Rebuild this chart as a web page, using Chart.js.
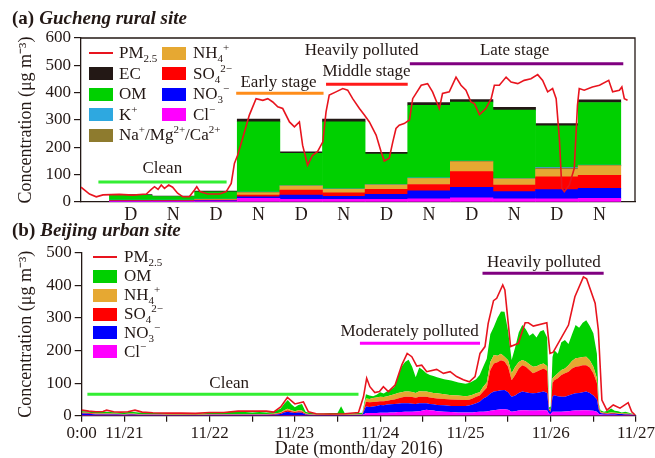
<!DOCTYPE html>
<html lang="en">
<head>
<meta charset="UTF-8">
<title>PM2.5 composition at Gucheng and Beijing</title>
<script src="https://cdn.jsdelivr.net/npm/chart.js"></script>
<style>
  body { margin: 0; background: #fff; }
  #wrap { position: relative; width: 655px; height: 458px; overflow: hidden;
          font-family: "Liberation Serif", "Times New Roman", serif; color: #231815; }
  canvas { position: absolute; left: 0; }
  #chartA { top: 0; }
  #chartB { top: 225px; }
  .title { position: absolute; left: 12px; font-size: 19px; font-weight: bold; white-space: nowrap; line-height: 20px; }
  .title i { margin-left: 5px; }
  .item { position: absolute; white-space: nowrap; height: 20px; line-height: 20px; font-size: 17px; }
  .sw { position: absolute; left: 0; top: 3.5px; width: 24px; height: 13px; }
  .ln { position: absolute; left: 0; top: 9px; width: 24px; height: 0; border-top: 2px solid #e8141e; }
  .lbl { position: absolute; top: 0; }
  sub, sup { font-size: 11px; line-height: 0; }
</style>
</head>
<body>
<div id="wrap">
  <canvas id="chartA" width="655" height="225"></canvas>
  <canvas id="chartB" width="655" height="233"></canvas>
  <div class="title" style="top:8px">(a)<i>Gucheng rural site</i></div>
  <div class="title" style="top:220px">(b)<i>Beijing urban site</i></div>
  <div id="legendA"></div>
  <div id="legendB"></div>
</div>

<script>
// ---------- (a) Gucheng: day/night averages (hours from 11/21 0:00) ----------
const barCenters = [14, 26, 38, 50, 62, 74, 86, 98, 110, 122, 134, 146];
const dayNight   = ['D', 'N', 'D', 'N', 'D', 'N', 'D', 'N', 'D', 'N', 'D', 'N'];
const clBar      = [2, 2, 3, 13, 10, 10, 10, 12, 15, 12, 12, 13];
const no3Bar     = [1, 1, 2, 6, 15, 11, 18, 29, 39, 26, 33, 37];
const so4Bar     = [2, 2, 2, 6, 19, 13, 18, 23, 57, 24, 47, 48];
const nh4Bar     = [1, 1, 2, 9, 14, 12, 16, 22, 36, 22, 27, 34];
const naMgCaBar  = [0.5, 0.5, 1, 1, 1, 1, 1, 1, 2, 1, 5, 2];
const kBar       = [0.5, 0.5, 1, 1, 1, 1, 1, 1, 1, 1, 3, 1];
const omBar      = [17, 13, 26, 257, 118, 245, 111, 266, 216, 250, 152, 229];
const ecBar      = [3, 2, 3, 10, 6, 10, 7, 10, 9, 10, 8, 10];

// hourly PM2.5 at Gucheng
const pmAHours = [0, 2.4, 4.3, 6.2, 10.8, 14.6, 18.4, 19.8, 20.7, 21.7, 22.6, 23.5, 24.7, 25.8, 27.2, 28.7, 30.5, 31.9,
  32.6, 33.5, 35.7, 39, 40.9, 42.3, 43.2, 44.1, 45.5, 47.4, 49.3, 51.2, 52.6, 54, 55.4, 56.8, 58.7, 60.1, 61.5, 62.4,
  63.8, 65.2, 66.6, 68.1, 69, 69.9, 71.8, 73.7, 75.1, 76.5, 78.4, 79.8, 81.2, 83.1, 84.5, 85.4, 86.8, 87.8, 88.7, 89.6,
  91, 92.5, 93.4, 95.8, 97.6, 99, 100.9, 101.8, 103.7, 105.6, 107, 108.4, 109.8, 110.8, 112.2, 114, 115.5, 116.4, 117.8,
  119.7, 121.1, 123, 124.8, 126.7, 128.6, 130, 131.4, 132.8, 133.8, 134.7, 135.4, 136.1, 137.5, 138.9, 139.8, 140.3,
  141.7, 144, 146, 148.6, 149.7, 151.6, 152.3, 153, 153.9];
const pmAValues = [54, 29, 19, 26, 28, 25, 29, 46, 56, 46, 62, 50, 62, 54, 32, 19, 19, 43,
  56, 38, 29, 29, 38, 68, 141, 171, 232, 318, 378, 372, 378, 366, 348, 342, 293, 275, 293, 208,
  135, 171, 184, 220, 330, 391, 403, 415, 409, 378, 342, 318, 293, 245, 184, 150, 160, 220, 269, 281,
  287, 300, 378, 427, 433, 403, 342, 397, 403, 457, 427, 409, 366, 360, 320, 342, 378, 427, 427,
  457, 439, 433, 445, 451, 466, 445, 403, 415, 378, 232, 50, 38, 62, 123, 354, 415,
  409, 421, 427, 445, 403, 409, 421, 378, 372];

// ---------- (b) Beijing: high-resolution composition ----------
const bHours = [0, 2, 4, 6, 8, 10, 12, 14, 16, 18, 20, 22, 24, 26, 28, 30, 32, 34, 36, 38, 40, 42, 44, 46, 48, 50, 52, 54,
  56, 57, 58, 59, 60, 61, 62, 63, 64, 66, 68, 70, 72, 73, 74, 76, 79,
  80, 81, 82, 83, 84, 85, 86, 87, 88, 89, 90, 91, 92, 93, 94, 95, 96, 97, 98, 99, 100, 102, 104, 106, 108, 109, 110,
  111, 112, 113, 114, 115, 116, 117, 118, 119, 120, 121, 122, 123, 124, 125, 126, 127, 128, 129, 130, 131, 131.5, 132,
  132.5, 133, 134, 135, 136, 137, 138, 139, 140, 141, 142, 143, 144, 145, 145.5, 146, 147, 148, 149, 150, 151, 152,
  153, 154, 155, 156];
const clB = [2, 2, 1, 1, 1, 1, 1, 1, 1, 1, 1, 1, 1, 1, 1, 1, 1, 1, 1, 1, 1, 1, 1, 1, 1, 1, 1, 1,
  1, 2, 2, 2, 2, 2, 2, 1, 1, 1, 1, 1, 1, 1, 1, 1, 1,
  8, 8, 8, 8, 9, 9, 9, 10, 10, 11, 11, 12, 12, 12, 13, 14, 16, 18, 17, 16, 14, 12, 11, 10, 10, 10, 10,
  11, 12, 12, 13, 15, 17, 18, 20, 20, 18, 12, 14, 16, 17, 17, 16, 16, 16, 17, 17, 16, 6, 5,
  12, 12, 12, 12, 13, 14, 15, 16, 16, 17, 17, 16, 15, 12, 6, 4, 3, 3, 3, 3, 2, 2,
  2, 2, 1, 1];
const no3B = [5, 4, 3, 3, 3, 3, 2, 3, 2, 2, 2, 2, 1, 1, 1, 1, 1, 1, 2, 2, 2, 2, 2, 2, 2, 2, 2, 2,
  4, 8, 10, 8, 6, 8, 7, 3, 2, 1, 1, 1, 1, 1, 1, 1, 2,
  20, 19, 20, 22, 24, 23, 25, 25, 26, 26, 27, 26, 26, 25, 23, 24, 22, 20, 19, 19, 19, 20, 19, 20, 20, 21, 24,
  27, 31, 41, 45, 53, 57, 58, 58, 59, 54, 46, 48, 54, 57, 55, 54, 53, 54, 55, 57, 54, 9, 7,
  46, 51, 48, 46, 45, 48, 51, 53, 54, 55, 57, 54, 47, 38, 14, 4, 3, 2, 3, 3, 3, 3,
  2, 2, 2, 1];
const so4B = [2, 2, 2, 2, 2, 1, 1, 2, 1, 1, 1, 1, 1, 1, 1, 1, 1, 1, 1, 1, 1, 1, 1, 1, 1, 1, 1, 2,
  3, 4, 5, 4, 3, 4, 4, 2, 1, 1, 1, 1, 1, 1, 1, 1, 1,
  15, 14, 14, 13, 11, 12, 12, 13, 14, 16, 18, 20, 20, 20, 19, 20, 20, 20, 20, 19, 20, 19, 20, 19, 18, 18, 19,
  20, 19, 21, 28, 72, 86, 88, 92, 87, 78, 51, 63, 75, 81, 78, 70, 61, 65, 68, 71, 68, 5, 3,
  42, 46, 55, 67, 72, 73, 79, 81, 82, 83, 81, 78, 68, 50, 8, 2, 2, 2, 2, 2, 1, 1,
  2, 1, 1, 1];
const nh4B = [1, 1, 1, 1, 1, 1, 1, 1, 1, 1, 1, 1, 1, 1, 1, 1, 1, 1, 1, 1, 1, 1, 1, 1, 1, 1, 1, 1,
  2, 3, 4, 3, 3, 3, 3, 1, 1, 1, 1, 1, 1, 1, 1, 1, 1,
  10, 10, 12, 13, 14, 13, 14, 15, 16, 17, 16, 16, 16, 16, 15, 17, 16, 16, 16, 16, 16, 15, 13, 13, 12, 12, 11,
  11, 10, 15, 16, 25, 26, 20, 20, 15, 20, 21, 25, 20, 16, 16, 18, 20, 17, 17, 15, 14, 2, 2,
  15, 11, 15, 15, 15, 20, 23, 26, 26, 25, 26, 22, 20, 15, 4, 2, 1, 1, 2, 1, 2, 1,
  1, 1, 1, 0];
const omB = [4, 4, 4, 5, 4, 4, 5, 5, 5, 4, 3, 3, 3, 3, 3, 2, 3, 3, 4, 4, 5, 8, 6, 6, 5, 6, 5, 5,
  12, 20, 27, 18, 12, 16, 20, 5, 4, 3, 3, 4, 4, 25, 4, 3, 4,
  13, 11, 6, 8, 14, 11, 15, 17, 22, 50, 78, 91, 98, 77, 48, 73, 66, 56, 53, 52, 49, 46, 45, 40, 38, 39, 42,
  43, 53, 61, 73, 85, 87, 116, 130, 138, 90, 41, 60, 90, 107, 99, 87, 103, 88, 101, 103, 88, 3, 11,
  65, 81, 60, 85, 87, 65, 82, 102, 92, 105, 112, 105, 103, 75, 6, 5, 3, 7, 12, 6, 6, 3,
  5, 3, 1, 1];

// hourly PM2.5 at Beijing
const pmBHours = [0, 2, 4, 6, 7, 9, 11, 13, 15, 17, 20, 24, 28, 32, 36, 40, 44, 48, 52, 54, 56, 57.9, 60, 61.4, 62.4,
  63.8, 66, 70, 74, 77.9, 79.3, 80.2, 81.1, 82.5, 83.8, 84.9, 86.3, 88.2, 90.1, 91.6, 92.9, 94.3, 95.7, 97.1, 99.9,
  101.8, 103.7, 105.5, 107.4, 109.1, 110.7, 112.1, 113.5, 114.4, 115.9, 116.8, 118.5, 119.1, 120.7, 122.9, 124.8,
  125.7, 127.1, 130.9, 131.8, 132.7, 137, 138.8, 141.2, 142.1, 144.5, 145.4, 146.4, 147.8, 149.6, 151.5, 153.8,
  154.8, 155.7];
const pmBValues = [17, 14, 12, 13, 17, 12, 11, 12, 17, 11, 9, 8, 8, 7, 10, 10, 14, 14, 14, 11, 27, 56, 36, 40, 42,
  12, 6, 5, 6, 10, 58, 115, 89, 71, 74, 89, 74, 94, 156, 191, 181, 152, 155, 135, 142,
  130, 135, 120, 110, 104, 120, 191, 212, 283, 353, 360, 401, 386, 212, 222, 285,
  285, 275, 285, 191, 195, 278, 365, 426, 420, 345, 263, 48, 17, 33, 23, 40,
  12, 3];

const dateTickHours  = [0, 12, 24, 36, 48, 60, 72, 84, 96, 108, 120, 132, 144, 156];
const dateTickLabels = ['0:00', '11/21', '', '11/22', '', '11/23', '', '11/24', '', '11/25', '', '11/26', '', '11/27'];

// ---------- look ----------
const ink = '#231815';
const serif = '"Liberation Serif", "Times New Roman", serif';
const pmColor = '#e8141e';
const colors = {
  cl: '#ff00ff', no3: '#0000ff', so4: '#ff0000', nh4: '#e6a832',
  namgca: '#8e7b2e', k: '#2ea8e0', om: '#00d000', ec: '#231815'
};

// stage markers: line from..to (hours) at value y, label centred at tx, dy px above the line
const stagesA = [
  { text: 'Clean', from: 4.9, to: 41, y: 73, tx: 22.9, dy: 14, color: '#33ee33' },
  { text: 'Early stage', from: 43.7, to: 68.3, y: 398, tx: 55.6, dy: 11, color: '#ff8c1a' },
  { text: 'Middle stage', from: 69, to: 92, y: 431, tx: 80.4, dy: 13, color: '#ff1a1a' },
  { text: 'Late stage', from: 92.6, to: 152.7, y: 506, tx: 122.1, dy: 13, color: '#800080' },
  { text: 'Heavily polluted', y: 555, tx: 79, dy: 0 }
];
const stagesB = [
  { text: 'Clean', from: 1.6, to: 77.9, y: 66, tx: 41.5, dy: 11, color: '#33ee33' },
  { text: 'Moderately polluted', from: 78.3, to: 112.1, y: 222, tx: 92.3, dy: 11.5, color: '#ff00ff' },
  { text: 'Heavily polluted', from: 112.8, to: 146.9, y: 437, tx: 130.1, dy: 10.5, color: '#800080' }
];

const stagePlugin = {
  id: 'stages',
  afterDatasetsDraw(chart, args, opts) {
    const { ctx, chartArea, scales: { x, y } } = chart;
    ctx.save();
    if (opts.frame) {
      ctx.strokeStyle = ink;
      ctx.lineWidth = 1.3;
      ctx.beginPath();
      ctx.moveTo(chartArea.left, chartArea.top);
      ctx.lineTo(chartArea.right, chartArea.top);
      ctx.lineTo(chartArea.right, chartArea.bottom);
      ctx.stroke();
    }
    (opts.items || []).forEach(s => {
      const py = y.getPixelForValue(s.y);
      if (s.from != null) {
        ctx.strokeStyle = s.color;
        ctx.lineWidth = 3;
        ctx.beginPath();
        ctx.moveTo(x.getPixelForValue(s.from), py);
        ctx.lineTo(x.getPixelForValue(s.to), py);
        ctx.stroke();
      }
      ctx.fillStyle = ink;
      ctx.font = '17px ' + serif;
      ctx.textAlign = 'center';
      ctx.textBaseline = 'middle';
      ctx.fillText(s.text, x.getPixelForValue(s.tx), py - s.dy);
    });
    ctx.restore();
  }
};

function yAxis(max, width) {
  return {
    stacked: true, min: 0, max: max,
    ticks: { stepSize: 100, padding: 3, color: ink, font: { family: serif, size: 17 } },
    grid: { display: true, drawOnChartArea: false, drawTicks: true, tickLength: 7, color: ink, lineWidth: 1.2 },
    border: { display: true, color: ink, width: 1.3 },
    title: { display: true, text: 'Concentration (μg m⁻³)', color: ink,
             font: { family: serif, size: 18, lineHeight: 1.2 }, padding: { top: 15, bottom: 0 } },
    afterFit: s => { s.width = width; }
  };
}

// ---------- chart (a) ----------
const barLayers = [
  ['Cl⁻', clBar, colors.cl], ['NO3⁻', no3Bar, colors.no3], ['SO4²⁻', so4Bar, colors.so4],
  ['NH4⁺', nh4Bar, colors.nh4], ['Na⁺/Mg²⁺/Ca²⁺', naMgCaBar, colors.namgca], ['K⁺', kBar, colors.k],
  ['OM', omBar, colors.om], ['EC', ecBar, colors.ec]
];
const barSets = barLayers.map(([name, vals, col]) => ({
  type: 'bar', label: name, order: 1,
  data: barCenters.map((h, i) => ({ x: h, y: vals[i] })),
  backgroundColor: col, borderWidth: 0, barPercentage: 1, categoryPercentage: 1
}));

new Chart(document.getElementById('chartA'), {
  data: {
    datasets: barSets.concat([{
      type: 'line', label: 'PM2.5', stack: 'pm', order: 0,
      data: pmAHours.map((h, i) => ({ x: h, y: pmAValues[i] })),
      borderColor: pmColor, borderWidth: 1.6, pointRadius: 0, fill: false, tension: 0
    }])
  },
  options: {
    responsive: false, animation: false,
    layout: { padding: { top: 38, right: 20, left: 0, bottom: 0 } },
    plugins: { legend: { display: false }, tooltip: { enabled: false },
               stages: { items: stagesA, frame: true } },
    scales: {
      x: {
        type: 'linear', min: 0, max: 156, stacked: true, offset: false,
        grid: { display: false, drawTicks: false },
        border: { display: true, color: ink, width: 1.3 },
        afterBuildTicks: s => { s.ticks = barCenters.map(v => ({ value: v })); },
        ticks: { autoSkip: false, maxRotation: 0, padding: 2, color: ink,
                 font: { family: serif, size: 18 }, callback: (v, i) => dayNight[i] },
        afterFit: s => { s.height = 23; s.paddingLeft = 0; s.paddingRight = 0; }
      },
      y: yAxis(600, 81)
    }
  },
  plugins: [stagePlugin]
});

// ---------- chart (b) ----------
const areaLayers = [
  ['Cl⁻', clB, colors.cl], ['NO3⁻', no3B, colors.no3], ['SO4²⁻', so4B, colors.so4],
  ['NH4⁺', nh4B, colors.nh4], ['OM', omB, colors.om]
];
const areaSets = areaLayers.map(([name, vals, col], k) => ({
  type: 'line', label: name, order: 1,
  data: bHours.map((h, i) => ({ x: h, y: vals[i] })),
  backgroundColor: col, borderWidth: 0, pointRadius: 0, tension: 0,
  fill: k === 0 ? 'origin' : '-1'
}));

new Chart(document.getElementById('chartB'), {
  data: {
    datasets: areaSets.concat([{
      type: 'line', label: 'PM2.5', stack: 'pm', order: 0,
      data: pmBHours.map((h, i) => ({ x: h, y: pmBValues[i] })),
      borderColor: pmColor, borderWidth: 1.6, pointRadius: 0, fill: false, tension: 0
    }])
  },
  options: {
    responsive: false, animation: false,
    layout: { padding: { top: 27.7, right: 19, left: 0, bottom: 0 } },
    plugins: { legend: { display: false }, tooltip: { enabled: false },
               stages: { items: stagesB } },
    scales: {
      x: {
        type: 'linear', min: 0, max: 156,
        grid: { display: true, drawOnChartArea: false, drawTicks: true, tickLength: 6, color: ink, lineWidth: 1.2 },
        border: { display: true, color: ink, width: 1.3 },
        afterBuildTicks: s => { s.ticks = dateTickHours.map(v => ({ value: v })); },
        ticks: { autoSkip: false, maxRotation: 0, padding: 2, color: ink,
                 font: { family: serif, size: 17 }, callback: (v, i) => dateTickLabels[i] },
        title: { display: true, text: 'Date (month/day 2016)', color: ink,
                 font: { family: serif, size: 18, lineHeight: 1 }, padding: { top: 0, bottom: 0 } },
        afterFit: s => { s.height = 42.3; s.paddingLeft = 0; s.paddingRight = 0; }
      },
      y: yAxis(500, 81.7)
    }
  },
  plugins: [stagePlugin]
});

// ---------- HTML legends (for sub/superscripts) ----------
function legend(id, items) {
  document.getElementById(id).innerHTML = items.map(it =>
    '<div class="item" style="left:' + it.x + 'px;top:' + (it.y - 10) + 'px">' +
    (it.color ? '<span class="sw" style="background:' + it.color + '"></span>' : '<span class="ln"></span>') +
    '<span class="lbl" style="left:' + it.gap + 'px">' + it.html + '</span></div>').join('');
}
legend('legendA', [
  { x: 89, y: 53, gap: 30, html: 'PM<sub>2.5</sub>' },
  { x: 89, y: 73.5, gap: 30, color: colors.ec, html: 'EC' },
  { x: 89, y: 94, gap: 30, color: colors.om, html: 'OM' },
  { x: 89, y: 114.5, gap: 30, color: colors.k, html: 'K<sup>+</sup>' },
  { x: 89, y: 135, gap: 30, color: colors.namgca, html: 'Na<sup>+</sup>/Mg<sup>2+</sup>/Ca<sup>2+</sup>' },
  { x: 162, y: 53, gap: 31, color: colors.nh4, html: 'NH<sub>4</sub><sup>+</sup>' },
  { x: 162, y: 73.5, gap: 31, color: colors.so4, html: 'SO<sub>4</sub><sup>2−</sup>' },
  { x: 162, y: 94, gap: 31, color: colors.no3, html: 'NO<sub>3</sub><sup>−</sup>' },
  { x: 162, y: 114.5, gap: 31, color: colors.cl, html: 'Cl<sup>−</sup>' }
]);
legend('legendB', [
  { x: 93, y: 256.7, gap: 31, html: 'PM<sub>2.5</sub>' },
  { x: 93, y: 276, gap: 31, color: colors.om, html: 'OM' },
  { x: 93, y: 295, gap: 31, color: colors.nh4, html: 'NH<sub>4</sub><sup>+</sup>' },
  { x: 93, y: 314, gap: 31, color: colors.so4, html: 'SO<sub>4</sub><sup>2−</sup>' },
  { x: 93, y: 332.7, gap: 31, color: colors.no3, html: 'NO<sub>3</sub><sup>−</sup>' },
  { x: 93, y: 351.7, gap: 31, color: colors.cl, html: 'Cl<sup>−</sup>' }
]);
</script>
</body>
</html>
